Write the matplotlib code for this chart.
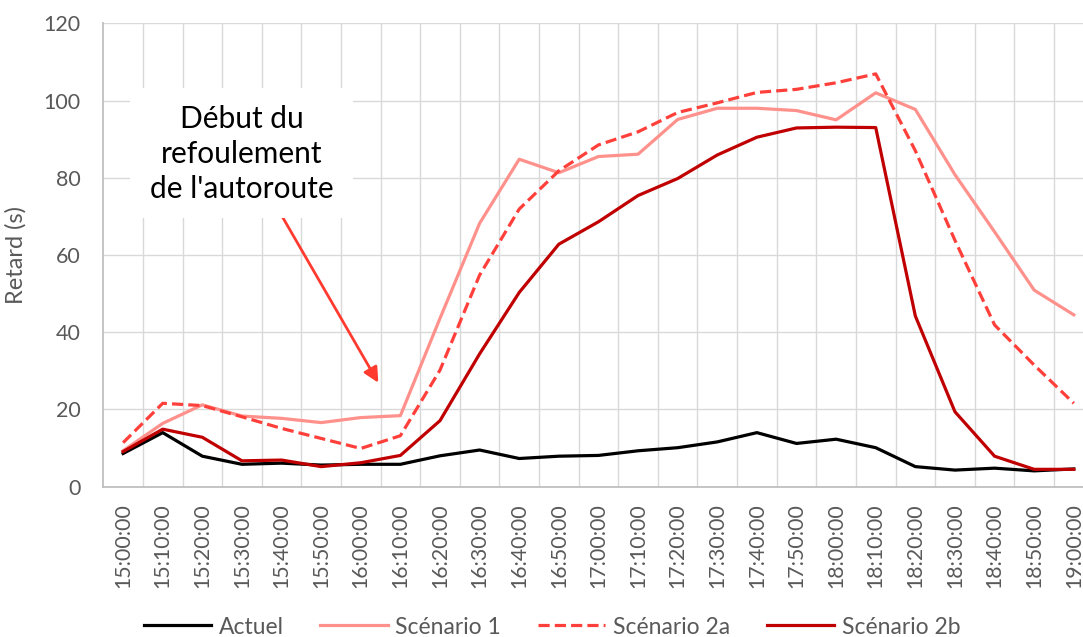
import matplotlib
matplotlib.use("Agg")
import matplotlib.pyplot as plt
from matplotlib.patches import Rectangle

times = ["15:00:00", "15:10:00", "15:20:00", "15:30:00", "15:40:00", "15:50:00",
         "16:00:00", "16:10:00", "16:20:00", "16:30:00", "16:40:00", "16:50:00",
         "17:00:00", "17:10:00", "17:20:00", "17:30:00", "17:40:00", "17:50:00",
         "18:00:00", "18:10:00", "18:20:00", "18:30:00", "18:40:00", "18:50:00",
         "19:00:00"]
actuel = [8.6, 14.0, 7.9, 5.8, 6.1, 5.6, 5.8, 5.8, 8.0, 9.5, 7.3, 7.9, 8.1,
          9.3, 10.1, 11.6, 14.0, 11.2, 12.3, 10.1, 5.2, 4.3, 4.8, 4.1, 4.6]
scenario1 = [9.3, 16.4, 21.2, 18.3, 17.7, 16.6, 17.9, 18.4, 43.6, 68.2, 84.8,
             81.3, 85.5, 86.1, 95.1, 98.0, 98.0, 97.4, 95.0, 102.0, 97.7, 80.8,
             66.0, 50.9, 44.5]
scenario2a = [11.4, 21.6, 21.0, 18.1, 15.1, 12.5, 9.9, 13.2, 30.2, 54.8, 71.9,
              81.8, 88.5, 91.9, 96.9, 99.4, 102.1, 102.9, 104.6, 106.9, 87.0,
              63.8, 41.9, 31.5, 21.6]
scenario2b = [9.1, 14.9, 12.8, 6.7, 6.9, 5.2, 6.2, 8.1, 17.1, 34.4, 50.3, 62.8,
              68.6, 75.4, 79.8, 85.9, 90.5, 92.9, 93.1, 93.0, 44.2, 19.4, 7.9,
              4.5, 4.5]
series_names = ["Actuel", "Scénario 1", "Scénario 2a", "Scénario 2b"]
annotation_text = "Début du\nrefoulement\nde l'autoroute"

plt.rcParams['font.family'] = ['Lato', 'DejaVu Sans']

W, H = 1083, 637
fig = plt.figure(figsize=(W / 100, H / 100), dpi=100)
ax_l, ax_r, ax_t, ax_b = 103.3, 1093.6, 23.3, 486.7
ax = fig.add_axes([ax_l / W, 1 - ax_b / H, (ax_r - ax_l) / W, (ax_b - ax_t) / H])

x = list(range(len(times)))
lw = 2.3
ax.plot(x, actuel, color="#000000", lw=lw, label=series_names[0], zorder=3)
ax.plot(x, scenario1, color="#FF918C", lw=lw, label=series_names[1], zorder=3)
ax.plot(x, scenario2a, color="#FF3F3A", lw=lw, ls=(0, (3.5, 1.6)),
        label=series_names[2], zorder=3)
ax.plot(x, scenario2b, color="#C00000", lw=lw, label=series_names[3], zorder=3)

ax.set_xlim(-0.5, len(times) - 0.5)
ax.set_ylim(0, 120)
ax.set_yticks(range(0, 121, 20))
ax.set_xticks(x)
ax.set_xticklabels(times, rotation=90, ha="center", va="top")
ax.set_xticks([i + 0.5 for i in x], minor=True)
ax.tick_params(axis="x", which="both", length=0, pad=12, labelsize=15.3,
               labelcolor="#595959")
ax.tick_params(axis="y", length=0, pad=16.5, labelsize=15.5, labelcolor="#595959")
ax.set_axisbelow(True)
ax.grid(axis="y", which="major", color="#D9D9D9", lw=1.0)
ax.grid(axis="x", which="minor", color="#D9D9D9", lw=1.0)
ax.grid(axis="x", which="major", visible=False)
for s in ["top", "right"]:
    ax.spines[s].set_visible(False)
for s in ["left", "bottom"]:
    ax.spines[s].set_color("#BFBFBF")
    ax.spines[s].set_linewidth(1.3)

ax.set_ylabel("Retard (s)", fontsize=17, color="#595959")
ax.yaxis.set_label_coords((27 - ax_l) / (ax_r - ax_l), 0.5)

# annotation box
fig.patches.append(Rectangle((130 / W, 1 - 218 / H), (353 - 130) / W, (218 - 88) / H,
                             transform=fig.transFigure, facecolor="white",
                             edgecolor="none", zorder=1))
fig.text(241.5 / W, 1 - 154 / H, annotation_text, ha="center", va="center",
         fontsize=21.5, color="#000000", linespacing=1.3, zorder=2)
ax.annotate("", xy=(378.3, H - 382.7), xycoords="figure pixels",
            xytext=(280, H - 212.7), textcoords="figure pixels",
            arrowprops=dict(arrowstyle="-|>,head_length=0.9,head_width=0.45",
                            color="#FF3B30", lw=2.0, shrinkA=0, shrinkB=0),
            zorder=4)

fig.legend(loc="center", bbox_to_anchor=(552 / W, 1 - 627 / H), ncol=4,
           frameon=False, fontsize=16.5, labelcolor="#595959",
           handlelength=2.95, handletextpad=0.32, columnspacing=1.6,
           borderpad=0)

fig.savefig("out.png", dpi=100)
